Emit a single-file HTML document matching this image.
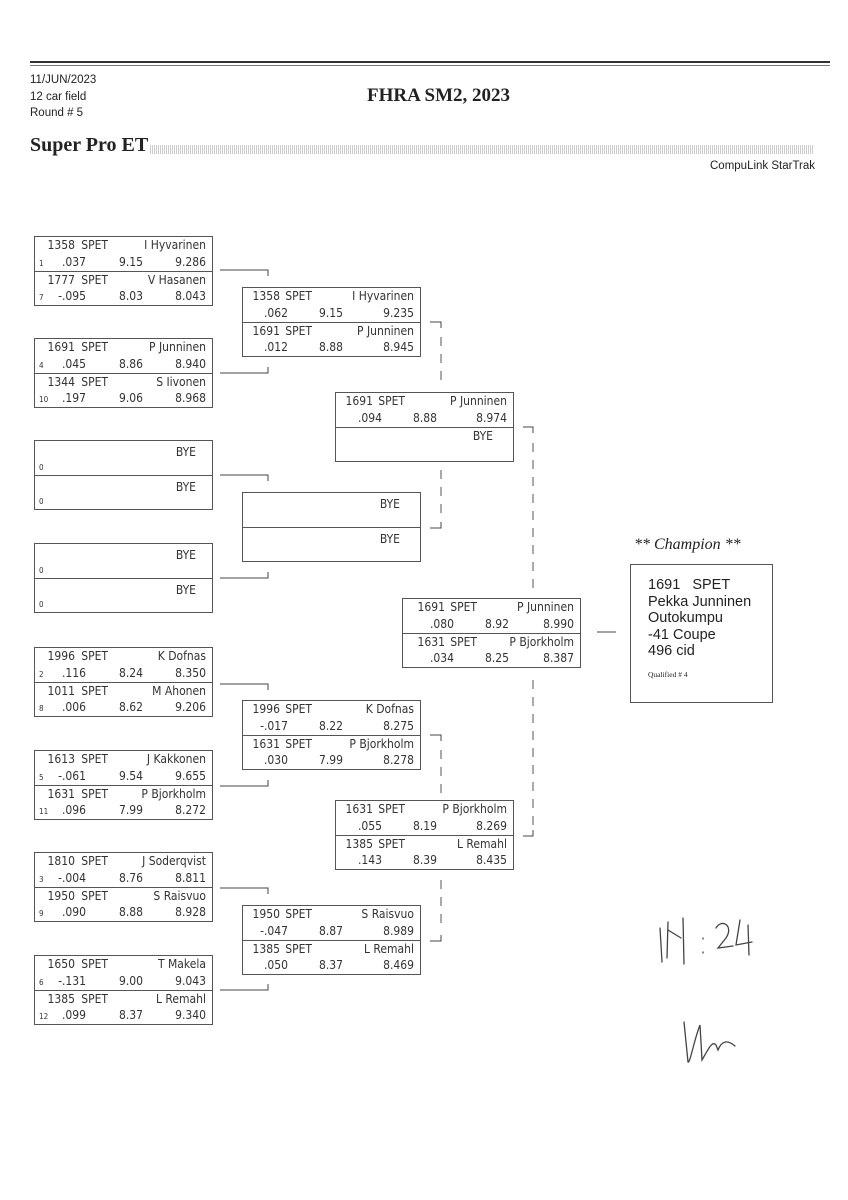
<!DOCTYPE html>
<html><head><meta charset="utf-8"><style>
body{margin:0;background:#fff;}
#p{position:relative;width:848px;height:1200px;overflow:hidden;font-family:"Liberation Sans",sans-serif;color:#222;}
.b{position:absolute;width:177px;height:68px;border:1px solid #555;font-size:12px;font-family:"DejaVu Sans Condensed","Liberation Sans Narrow","Liberation Sans",sans-serif;color:#333;}
.h{position:relative;height:34px;}
.h+.h{border-top:1px solid #555;height:33px;}
.h span{position:absolute;white-space:nowrap;}
.s{font-size:8px;left:4px;}
.a{position:absolute;}
</style></head><body><div id="p">
<div class="a" style="left:30px;top:61px;width:800px;border-top:2px solid #333;"></div>
<div class="a" style="left:30px;top:65px;width:800px;border-top:1px solid #777;"></div>
<div class="a" style="left:30px;top:72px;font-size:11.5px;line-height:16.5px;">11/JUN/2023<br>12 car field<br>Round # 5</div>
<div class="a" style="left:367px;top:85px;font-family:'Liberation Serif',serif;font-weight:bold;font-size:19px;">FHRA SM2, 2023</div>
<div class="a" style="left:30px;top:134px;font-family:'Liberation Serif',serif;font-weight:bold;font-size:20px;">Super Pro ET</div>
<div class="a" style="left:150px;top:145px;width:663px;height:9px;background:repeating-linear-gradient(90deg,#ccc 0 1px,#fff 1px 2px);"></div>
<div class="a" style="left:710px;top:160px;font-size:11.5px;">CompuLink StarTrak</div>

<!-- Round 1 -->
<div class="b" style="left:34px;top:236px"><div class="h"><span style="right:137px;top:1px">1358</span><span style="right:104px;top:1px">SPET</span><span style="right:6px;top:1px">I Hyvarinen</span><span class="s" style="top:22px">1</span><span style="right:126px;top:18px">.037</span><span style="right:69px;top:18px">9.15</span><span style="right:6px;top:18px">9.286</span></div><div class="h"><span style="right:137px;top:1px">1777</span><span style="right:104px;top:1px">SPET</span><span style="right:6px;top:1px">V Hasanen</span><span class="s" style="top:21px">7</span><span style="right:126px;top:17px">-.095</span><span style="right:69px;top:17px">8.03</span><span style="right:6px;top:17px">8.043</span></div></div>
<div class="b" style="left:34px;top:338px"><div class="h"><span style="right:137px;top:1px">1691</span><span style="right:104px;top:1px">SPET</span><span style="right:6px;top:1px">P Junninen</span><span class="s" style="top:22px">4</span><span style="right:126px;top:18px">.045</span><span style="right:69px;top:18px">8.86</span><span style="right:6px;top:18px">8.940</span></div><div class="h"><span style="right:137px;top:1px">1344</span><span style="right:104px;top:1px">SPET</span><span style="right:6px;top:1px">S Iivonen</span><span class="s" style="top:21px">10</span><span style="right:126px;top:17px">.197</span><span style="right:69px;top:17px">9.06</span><span style="right:6px;top:17px">8.968</span></div></div>
<div class="b" style="left:34px;top:440px"><div class="h"><span style="right:16px;top:4px">BYE</span><span class="s" style="top:22px">0</span></div><div class="h"><span style="right:16px;top:4px">BYE</span><span class="s" style="top:21px">0</span></div></div>
<div class="b" style="left:34px;top:543px"><div class="h"><span style="right:16px;top:4px">BYE</span><span class="s" style="top:22px">0</span></div><div class="h"><span style="right:16px;top:4px">BYE</span><span class="s" style="top:21px">0</span></div></div>
<div class="b" style="left:34px;top:647px"><div class="h"><span style="right:137px;top:1px">1996</span><span style="right:104px;top:1px">SPET</span><span style="right:6px;top:1px">K Dofnas</span><span class="s" style="top:22px">2</span><span style="right:126px;top:18px">.116</span><span style="right:69px;top:18px">8.24</span><span style="right:6px;top:18px">8.350</span></div><div class="h"><span style="right:137px;top:1px">1011</span><span style="right:104px;top:1px">SPET</span><span style="right:6px;top:1px">M Ahonen</span><span class="s" style="top:21px">8</span><span style="right:126px;top:17px">.006</span><span style="right:69px;top:17px">8.62</span><span style="right:6px;top:17px">9.206</span></div></div>
<div class="b" style="left:34px;top:750px"><div class="h"><span style="right:137px;top:1px">1613</span><span style="right:104px;top:1px">SPET</span><span style="right:6px;top:1px">J Kakkonen</span><span class="s" style="top:22px">5</span><span style="right:126px;top:18px">-.061</span><span style="right:69px;top:18px">9.54</span><span style="right:6px;top:18px">9.655</span></div><div class="h"><span style="right:137px;top:1px">1631</span><span style="right:104px;top:1px">SPET</span><span style="right:6px;top:1px">P Bjorkholm</span><span class="s" style="top:21px">11</span><span style="right:126px;top:17px">.096</span><span style="right:69px;top:17px">7.99</span><span style="right:6px;top:17px">8.272</span></div></div>
<div class="b" style="left:34px;top:852px"><div class="h"><span style="right:137px;top:1px">1810</span><span style="right:104px;top:1px">SPET</span><span style="right:6px;top:1px">J Soderqvist</span><span class="s" style="top:22px">3</span><span style="right:126px;top:18px">-.004</span><span style="right:69px;top:18px">8.76</span><span style="right:6px;top:18px">8.811</span></div><div class="h"><span style="right:137px;top:1px">1950</span><span style="right:104px;top:1px">SPET</span><span style="right:6px;top:1px">S Raisvuo</span><span class="s" style="top:21px">9</span><span style="right:126px;top:17px">.090</span><span style="right:69px;top:17px">8.88</span><span style="right:6px;top:17px">8.928</span></div></div>
<div class="b" style="left:34px;top:955px"><div class="h"><span style="right:137px;top:1px">1650</span><span style="right:104px;top:1px">SPET</span><span style="right:6px;top:1px">T Makela</span><span class="s" style="top:22px">6</span><span style="right:126px;top:18px">-.131</span><span style="right:69px;top:18px">9.00</span><span style="right:6px;top:18px">9.043</span></div><div class="h"><span style="right:137px;top:1px">1385</span><span style="right:104px;top:1px">SPET</span><span style="right:6px;top:1px">L Remahl</span><span class="s" style="top:21px">12</span><span style="right:126px;top:17px">.099</span><span style="right:69px;top:17px">8.37</span><span style="right:6px;top:17px">9.340</span></div></div>

<!-- Round 2 -->
<div class="b" style="left:242px;top:287px"><div class="h"><span style="right:140px;top:1px">1358</span><span style="right:108px;top:1px">SPET</span><span style="right:6px;top:1px">I Hyvarinen</span><span style="right:132px;top:18px">.062</span><span style="right:77px;top:18px">9.15</span><span style="right:6px;top:18px">9.235</span></div><div class="h"><span style="right:140px;top:1px">1691</span><span style="right:108px;top:1px">SPET</span><span style="right:6px;top:1px">P Junninen</span><span style="right:132px;top:17px">.012</span><span style="right:77px;top:17px">8.88</span><span style="right:6px;top:17px">8.945</span></div></div>
<div class="b" style="left:242px;top:492px"><div class="h"><span style="right:20px;top:4px">BYE</span></div><div class="h"><span style="right:20px;top:4px">BYE</span></div></div>
<div class="b" style="left:242px;top:700px"><div class="h"><span style="right:140px;top:1px">1996</span><span style="right:108px;top:1px">SPET</span><span style="right:6px;top:1px">K Dofnas</span><span style="right:132px;top:18px">-.017</span><span style="right:77px;top:18px">8.22</span><span style="right:6px;top:18px">8.275</span></div><div class="h"><span style="right:140px;top:1px">1631</span><span style="right:108px;top:1px">SPET</span><span style="right:6px;top:1px">P Bjorkholm</span><span style="right:132px;top:17px">.030</span><span style="right:77px;top:17px">7.99</span><span style="right:6px;top:17px">8.278</span></div></div>
<div class="b" style="left:242px;top:905px"><div class="h"><span style="right:140px;top:1px">1950</span><span style="right:108px;top:1px">SPET</span><span style="right:6px;top:1px">S Raisvuo</span><span style="right:132px;top:18px">-.047</span><span style="right:77px;top:18px">8.87</span><span style="right:6px;top:18px">8.989</span></div><div class="h"><span style="right:140px;top:1px">1385</span><span style="right:108px;top:1px">SPET</span><span style="right:6px;top:1px">L Remahl</span><span style="right:132px;top:17px">.050</span><span style="right:77px;top:17px">8.37</span><span style="right:6px;top:17px">8.469</span></div></div>

<!-- Round 3 -->
<div class="b" style="left:335px;top:392px"><div class="h"><span style="right:140px;top:1px">1691</span><span style="right:108px;top:1px">SPET</span><span style="right:6px;top:1px">P Junninen</span><span style="right:131px;top:18px">.094</span><span style="right:76px;top:18px">8.88</span><span style="right:6px;top:18px">8.974</span></div><div class="h"><span style="right:20px;top:1px">BYE</span></div></div>
<div class="b" style="left:335px;top:800px"><div class="h"><span style="right:140px;top:1px">1631</span><span style="right:108px;top:1px">SPET</span><span style="right:6px;top:1px">P Bjorkholm</span><span style="right:131px;top:18px">.055</span><span style="right:76px;top:18px">8.19</span><span style="right:6px;top:18px">8.269</span></div><div class="h"><span style="right:140px;top:1px">1385</span><span style="right:108px;top:1px">SPET</span><span style="right:6px;top:1px">L Remahl</span><span style="right:131px;top:17px">.143</span><span style="right:76px;top:17px">8.39</span><span style="right:6px;top:17px">8.435</span></div></div>

<!-- Final -->
<div class="b" style="left:402px;top:598px"><div class="h"><span style="right:135px;top:1px">1691</span><span style="right:103px;top:1px">SPET</span><span style="right:6px;top:1px">P Junninen</span><span style="right:126px;top:18px">.080</span><span style="right:71px;top:18px">8.92</span><span style="right:6px;top:18px">8.990</span></div><div class="h"><span style="right:135px;top:1px">1631</span><span style="right:103px;top:1px">SPET</span><span style="right:6px;top:1px">P Bjorkholm</span><span style="right:126px;top:17px">.034</span><span style="right:71px;top:17px">8.25</span><span style="right:6px;top:17px">8.387</span></div></div>

<!-- Champion -->
<div class="a" style="left:634px;top:536px;font-family:'Liberation Serif',serif;font-style:italic;font-size:16px;">** Champion **</div>
<div class="a" style="left:630px;top:564px;width:141px;height:137px;border:1px solid #555;"></div>
<div class="a" style="left:648px;top:577px;font-size:14.5px;line-height:16.5px;">1691&nbsp;&nbsp; SPET<br>Pekka Junninen<br>Outokumpu<br>-41 Coupe<br>496 cid</div>
<div class="a" style="left:648px;top:670px;font-family:'Liberation Serif',serif;font-size:7.5px;">Qualified # 4</div>

<svg class="a" style="left:0;top:0" width="848" height="1200">
<g stroke="#444" stroke-width="1" fill="none">
<path d="M220 270H268V276M220 373H268V367"/>
<path d="M220 475H268V481M220 578H268V572"/>
<path d="M220 684H268V690M220 786H268V780"/>
<path d="M220 888H268V894M220 990H268V984"/>
<path d="M430 322H441V328M430 528H441V522"/>
<path d="M430 735H441V741M430 941H441V935"/>
<path d="M523 427H533V433M523 836H533V830"/>
<path d="M597 632H616"/>
</g>
<g stroke="#555" stroke-width="1" stroke-dasharray="9,8" fill="none">
<path d="M441 337V385M441 470V518M441 750V800M441 880V928M533 443V590M533 680V825"/>
</g>
<g stroke="#444" stroke-width="1.3" fill="none" stroke-linecap="round">
<path d="M660 928L662 962M668 922L667 958M668 930L681 938M683 918L684 964"/>
<path d="M703 938v1M703 952v1"/>
<path d="M716 928C722 918 734 926 726 938L718 948L733 946M740 920L736 945L752 942M748 925L749 955"/>
<path d="M684 1022L688 1062C690 1064 694 1040 700 1025L702 1060C708 1050 712 1040 716 1045L718 1050C722 1040 728 1040 735 1046"/>
</g>
</svg>
</div></body></html>
